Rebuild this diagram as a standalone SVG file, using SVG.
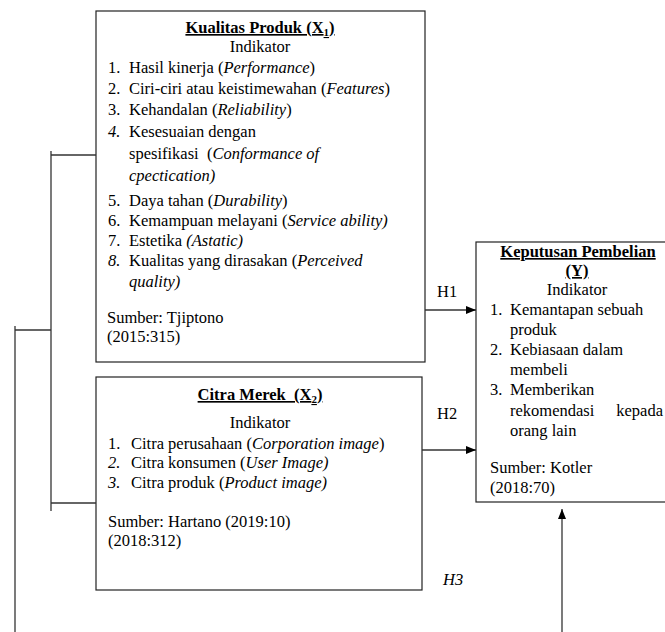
<svg xmlns="http://www.w3.org/2000/svg" width="665" height="632" viewBox="0 0 665 632">
<style>
text{font-family:"Liberation Serif","Times New Roman",serif;font-size:16.5px;fill:#000}
.b{font-weight:bold;text-decoration:underline}
.c{text-anchor:middle}
.i{font-style:italic}
.box{fill:#fff;stroke:#222;stroke-width:1.2}
.ln{fill:none;stroke:#333;stroke-width:1.3}
</style>
<defs>
<marker id="ah" viewBox="0 0 10 10" refX="10" refY="5" markerWidth="10" markerHeight="10" markerUnits="userSpaceOnUse" orient="auto">
<path d="M0,1 L10,5 L0,9 Z" fill="#000"/>
</marker>
</defs>
<rect width="665" height="632" fill="#fff"/>

<g id="x1">
<rect class="box" x="96" y="11" width="329" height="351"/>
<text class="b c" x="260" y="33">Kualitas Produk (X<tspan font-size="11" dy="3">1</tspan><tspan dy="-3">)</tspan></text>
<text class="c" x="260" y="52">Indikator</text>
<text x="108" y="73">1.</text><text x="129" y="73">Hasil kinerja (<tspan class="i">Performance</tspan>)</text>
<text x="108" y="94">2.</text><text x="129" y="94">Ciri-ciri atau keistimewahan (<tspan class="i">Features</tspan>)</text>
<text x="108" y="115">3.</text><text x="129" y="115">Kehandalan (<tspan class="i">Reliability</tspan>)</text>
<text class="i" x="108" y="137">4.</text><text x="129" y="137">Kesesuaian dengan</text>
<text x="129" y="159" xml:space="preserve">spesifikasi  (<tspan class="i">Conformance of</tspan></text>
<text class="i" x="129" y="181">cpectication)</text>
<text x="108" y="206">5.</text><text x="129" y="206">Daya tahan (<tspan class="i">Durability</tspan>)</text>
<text x="108" y="226">6.</text><text x="129" y="226">Kemampuan melayani (<tspan class="i">Service ability)</tspan></text>
<text x="108" y="246">7.</text><text x="129" y="246">Estetika <tspan class="i">(Astatic)</tspan></text>
<text class="i" x="108" y="266">8.</text><text x="129" y="266">Kualitas yang dirasakan (<tspan class="i">Perceived</tspan></text>
<text class="i" x="129" y="287">quality)</text>
<text x="107" y="323">Sumber: Tjiptono</text>
<text x="107" y="342">(2015:315)</text>
</g>

<g id="x2">
<rect class="box" x="96" y="377" width="326" height="213"/>
<text class="b c" x="260" y="400" xml:space="preserve">Citra Merek  (X<tspan font-size="11" dy="3">2</tspan><tspan dy="-3">)</tspan></text>
<text class="c" x="260" y="428">Indikator</text>
<text x="108" y="449">1.</text><text x="131" y="449">Citra perusahaan (<tspan class="i">Corporation image</tspan>)</text>
<text class="i" x="108" y="468">2.</text><text x="131" y="468">Citra konsumen (<tspan class="i">User Image)</tspan></text>
<text class="i" x="108" y="488">3.</text><text x="131" y="488">Citra produk (<tspan class="i">Product image)</tspan></text>
<text x="108" y="527">Sumber: Hartano (2019:10)</text>
<text x="108" y="546">(2018:312)</text>
</g>

<g id="y">
<rect class="box" x="476" y="242" width="195" height="260"/>
<text class="b c" x="578" y="257">Keputusan Pembelian</text>
<text class="b c" x="577" y="276">(Y)</text>
<text class="c" x="577" y="295">Indikator</text>
<text x="490" y="315">1.</text><text x="510" y="315">Kemantapan sebuah</text>
<text x="510" y="335">produk</text>
<text x="490" y="355">2.</text><text x="510" y="355">Kebiasaan dalam</text>
<text x="510" y="375">membeli</text>
<text x="490" y="395">3.</text><text x="510" y="395">Memberikan</text>
<text x="510" y="416">rekomendasi</text><text x="663" y="416" text-anchor="end">kepada</text>
<text x="510" y="436">orang lain</text>
<text x="490" y="473">Sumber: Kotler</text>
<text x="490" y="493">(2018:70)</text>
</g>

<g id="connectors">
<line class="ln" x1="51" y1="151" x2="51" y2="511"/>
<line class="ln" x1="51" y1="155" x2="96" y2="155"/>
<line class="ln" x1="51" y1="503" x2="96" y2="503"/>
<line class="ln" x1="15" y1="326" x2="15" y2="632"/>
<line class="ln" x1="15" y1="330" x2="51" y2="330"/>
<line class="ln" x1="425" y1="310" x2="476" y2="310" marker-end="url(#ah)"/>
<line class="ln" x1="422" y1="450" x2="476" y2="450" marker-end="url(#ah)"/>
<line class="ln" x1="562" y1="632" x2="562" y2="509" marker-end="url(#ah)"/>
</g>

<g id="labels">
<text x="437" y="297">H1</text>
<text x="437" y="419">H2</text>
<text class="i" x="443" y="585">H3</text>
</g>
</svg>
